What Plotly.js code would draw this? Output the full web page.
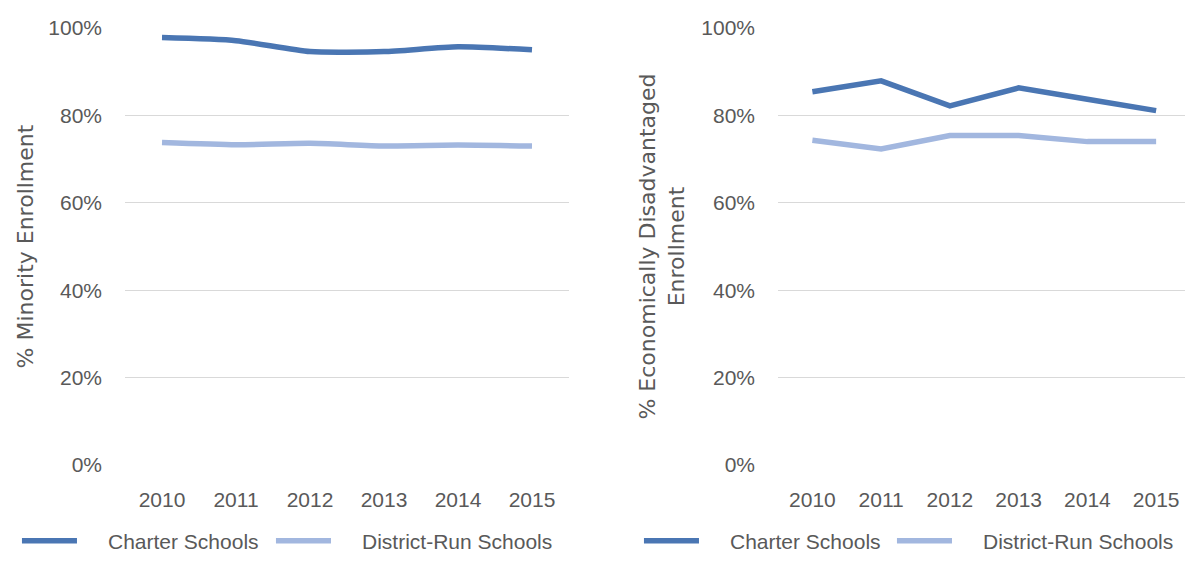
<!DOCTYPE html>
<html>
<head>
<meta charset="utf-8">
<script src="https://cdn.plot.ly/plotly-3.0.1.min.js"></script>
<style>
html,body{margin:0;padding:0;background:#fff;}
#chart{width:1185px;height:580px;}
#chart .legendlines path{transform:scaleX(0.692);}
</style>
</head>
<body>
<div id="chart"></div>
<script>
const years = ['2010', '2011', '2012', '2013', '2014', '2015'];
const charterMinority = [97.8, 97.1, 94.6, 94.6, 95.7, 95.0];
const districtMinority = [73.8, 73.3, 73.6, 73.0, 73.2, 73.0];
const charterEcon = [85.4, 87.9, 82.2, 86.3, 83.7, 81.1];
const districtEcon = [74.3, 72.3, 75.4, 75.4, 74.0, 74.0];
const yTickVals = [0, 20, 40, 60, 80, 100];
const yTickText = ['0%', '20%', '40%', '60%', '80%', '100%'];
const seriesNames = ['Charter Schools', 'District-Run Schools'];

const charterColor = '#4a76b3';
const districtColor = '#a2b7df';
const textColor = '#595959';
const sans = '"Liberation Sans", Arial, sans-serif';
const wide = '"DejaVu Sans", Verdana, sans-serif';

const W = 1185, H = 580;
const px = v => v / W;
const py = v => 1 - v / H;

const traces = [
  {x: years, y: charterMinority, name: seriesNames[0], type: 'scatter', mode: 'lines',
   line: {color: charterColor, width: 5.5, shape: 'spline', smoothing: 0.6}, xaxis: 'x', yaxis: 'y', legend: 'legend'},
  {x: years, y: districtMinority, name: seriesNames[1], type: 'scatter', mode: 'lines',
   line: {color: districtColor, width: 5.5, shape: 'spline', smoothing: 0.6}, xaxis: 'x', yaxis: 'y', legend: 'legend2'},
  {x: years, y: charterEcon, name: seriesNames[0], type: 'scatter', mode: 'lines',
   line: {color: charterColor, width: 5.5}, xaxis: 'x2', yaxis: 'y2', legend: 'legend3'},
  {x: years, y: districtEcon, name: seriesNames[1], type: 'scatter', mode: 'lines',
   line: {color: districtColor, width: 5.5}, xaxis: 'x2', yaxis: 'y2', legend: 'legend4'}
];

const xCommon = {
  type: 'category', showgrid: false, zeroline: false, showline: false,
  ticks: '', ticklabelstandoff: 20,
  tickfont: {family: sans, size: 21, color: textColor}, fixedrange: true
};
const yCommon = {
  range: [0, 100], tickvals: yTickVals, ticktext: yTickText,
  showgrid: true, gridcolor: '#d9d9d9', gridwidth: 1, zeroline: false, showline: false,
  ticks: '', ticklabelstandoff: 22,
  tickfont: {family: sans, size: 21, color: textColor}, fixedrange: true
};

const yDomain = [py(465), py(28)];
const legendCommon = {
  orientation: 'h', yanchor: 'middle', xanchor: 'left',
  font: {family: sans, size: 21, color: textColor},
  itemwidth: 79.5, bgcolor: 'rgba(0,0,0,0)'
};

const layout = {
  width: W, height: H,
  margin: {l: 0, r: 0, t: 0, b: 0},
  paper_bgcolor: '#ffffff', plot_bgcolor: '#ffffff',
  showlegend: true,
  xaxis: Object.assign({}, xCommon, {domain: [px(125), px(569)], range: [-0.5, 5.5], anchor: 'y'}),
  yaxis: Object.assign({}, yCommon, {domain: yDomain, anchor: 'x',
    title: {text: '% Minority Enrollment', standoff: 8, font: {family: wide, size: 22, color: textColor}}}),
  xaxis2: Object.assign({}, xCommon, {domain: [px(778), 1], range: [-0.5, 5.42], anchor: 'y2'}),
  yaxis2: Object.assign({}, yCommon, {domain: yDomain, anchor: 'x2',
    title: {text: '% Economically Disadvantaged<br>Enrollment', standoff: 10, font: {family: wide, size: 22, color: textColor}}}),
  legend: Object.assign({}, legendCommon, {x: px(18.5), y: py(541)}),
  legend2: Object.assign({}, legendCommon, {x: px(272.5), y: py(541)}),
  legend3: Object.assign({}, legendCommon, {x: px(640.5), y: py(541)}),
  legend4: Object.assign({}, legendCommon, {x: px(893.5), y: py(541)})
};

Plotly.newPlot('chart', traces, layout, {displayModeBar: false, staticPlot: true});
</script>
</body>
</html>
